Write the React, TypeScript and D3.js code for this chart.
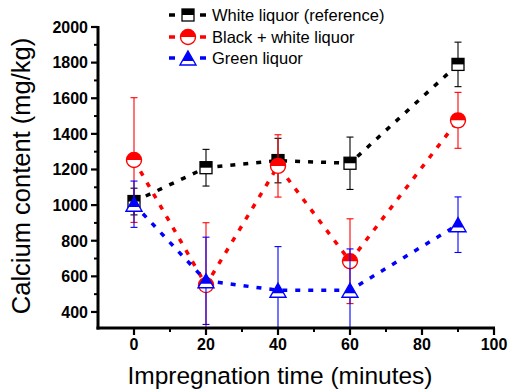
import React from "react";
import * as d3 from "d3";

const times = [0, 20, 40, 60, 90];
const whiteLiquor = [1020, 1210, 1250, 1235, 1790];
const whiteLiquorErr = [75, 103, 125, 147, 125];
const blackWhite = [1253, 551, 1220, 685, 1476];
const blackWhiteErr = [350, 350, 175, 238, 157];
const greenLiquor = [1005, 575, 522, 522, 890];
const greenLiquorErr = [130, 245, 245, 232, 156];

const xTicks = [0, 20, 40, 60, 80, 100];
const xMinor = [10, 30, 50, 70, 90];
const yTicks = [400, 600, 800, 1000, 1200, 1400, 1600, 1800, 2000];
const yMinor = [500, 700, 900, 1100, 1300, 1500, 1700, 1900];

const seriesNames = ["White liquor (reference)", "Black + white liquor", "Green liquor"];
const seriesColors = ["#000000", "#ff0000", "#0000ff"];
const seriesShapes = ["square", "circle", "triangle"];

const FONT = "'Liberation Sans', Arial, Helvetica, sans-serif";

function Marker({ shape, color, cx, cy }: { shape: string; color: string; cx: number; cy: number }) {
  if (shape === "square") {
    const s = 12;
    return (
      <g>
        <rect x={cx - s / 2} y={cy - s / 2} width={s} height={s} fill="#fff" stroke={color} strokeWidth={1.3} />
        <rect x={cx - s / 2} y={cy - s / 2} width={s} height={s / 2} fill={color} />
      </g>
    );
  }
  if (shape === "circle") {
    const r = 7.5;
    return (
      <g>
        <circle cx={cx} cy={cy} r={r} fill="#fff" stroke={color} strokeWidth={1.4} />
        <path d={`M${cx - r},${cy} A${r},${r} 0 0 1 ${cx + r},${cy} Z`} fill={color} />
      </g>
    );
  }
  const w = 16;
  const h = 14;
  const top = cy - h / 2;
  const bot = cy + h / 2;
  const f = 0.707;
  const fy = top + h * f;
  const half = (w / 2) * f;
  return (
    <g>
      <path d={`M${cx},${top} L${cx + w / 2},${bot} L${cx - w / 2},${bot} Z`} fill="#fff" stroke={color} strokeWidth={1.4} strokeLinejoin="miter" />
      <path d={`M${cx},${top} L${cx + half},${fy} L${cx - half},${fy} Z`} fill={color} />
    </g>
  );
}

export default function App() {
  const width = 508;
  const height = 392;
  const x = d3.scaleLinear().domain([-10, 100]).range([98, 494]);
  const y = d3.scaleLinear().domain([310, 2000]).range([328, 27]);

  const data = [whiteLiquor, blackWhite, greenLiquor];
  const errs = [whiteLiquorErr, blackWhiteErr, greenLiquorErr];

  const line = d3
    .line<[number, number]>()
    .x((d) => x(d[0]))
    .y((d) => y(d[1]));

  const legendY = [15, 37, 58];

  return (
    <svg width={width} height={height} style={{ position: "absolute", left: 0, top: 0, background: "#fff" }}>
      <defs>
        <clipPath id="plotClip">
          <rect x={98} y={0} width={400} height={328} />
        </clipPath>
      </defs>
      <rect x={0} y={0} width={width} height={height} fill="#fff" />

      <g clipPath="url(#plotClip)">
        {data.map((vals, si) => {
          const color = seriesColors[si];
          const pts = times.map((t, i) => [t, vals[i]] as [number, number]);
          return (
            <g key={si}>
              <path d={line(pts) || ""} fill="none" stroke={color} strokeWidth={3.5} strokeDasharray="5 8" />
              {times.map((t, i) => {
                const cx = x(t);
                const hi = y(vals[i] + errs[si][i]);
                const lo = y(vals[i] - errs[si][i]);
                return (
                  <g key={i} stroke={color} strokeWidth={1.1}>
                    <line x1={cx} x2={cx} y1={hi} y2={lo} />
                    <line x1={cx - 3.5} x2={cx + 3.5} y1={hi} y2={hi} />
                    <line x1={cx - 3.5} x2={cx + 3.5} y1={lo} y2={lo} />
                  </g>
                );
              })}
              {times.map((t, i) => (
                <Marker key={i} shape={seriesShapes[si]} color={color} cx={x(t)} cy={y(vals[i])} />
              ))}
            </g>
          );
        })}
      </g>

      <g stroke="#000">
        <line x1={98} x2={98} y1={y(2000) - 1} y2={329.5} strokeWidth={3} />
        <line x1={96.5} x2={495} y1={328} y2={328} strokeWidth={3} />
        {yTicks.map((t) => (
          <line key={t} x1={91} x2={98} y1={y(t)} y2={y(t)} strokeWidth={2.2} />
        ))}
        {yMinor.map((t) => (
          <line key={t} x1={94} x2={98} y1={y(t)} y2={y(t)} strokeWidth={2} />
        ))}
        {xTicks.map((t) => (
          <line key={t} x1={x(t)} x2={x(t)} y1={328} y2={335} strokeWidth={2.2} />
        ))}
        {xMinor.map((t) => (
          <line key={t} x1={x(t)} x2={x(t)} y1={328} y2={332} strokeWidth={2} />
        ))}
      </g>

      <g fontFamily={FONT} fontWeight="bold" fontSize={16} fill="#000">
        {yTicks.map((t) => (
          <text key={t} x={88} y={y(t) + 5.8} textAnchor="end">
            {t}
          </text>
        ))}
        {xTicks.map((t) => (
          <text key={t} x={x(t)} y={350} textAnchor="middle">
            {t}
          </text>
        ))}
      </g>

      <text x={280} y={384} textAnchor="middle" fontFamily={FONT} fontSize={24.5} fill="#000">
        Impregnation time (minutes)
      </text>
      <text
        transform={`translate(30,${176}) rotate(-90)`}
        textAnchor="middle"
        fontFamily={FONT}
        fontSize={25.5}
        fill="#000"
      >
        Calcium content (mg/kg)
      </text>

      {seriesNames.map((name, si) => {
        const cy = legendY[si];
        const color = seriesColors[si];
        return (
          <g key={si}>
            <line x1={169} x2={175} y1={cy} y2={cy} stroke={color} strokeWidth={3.5} />
            <line x1={200} x2={206} y1={cy} y2={cy} stroke={color} strokeWidth={3.5} />
            <Marker shape={seriesShapes[si]} color={color} cx={188} cy={cy} />
            <text x={212} y={cy + 6} fontFamily={FONT} fontSize={16.5} fill="#000">
              {name}
            </text>
          </g>
        );
      })}
    </svg>
  );
}
